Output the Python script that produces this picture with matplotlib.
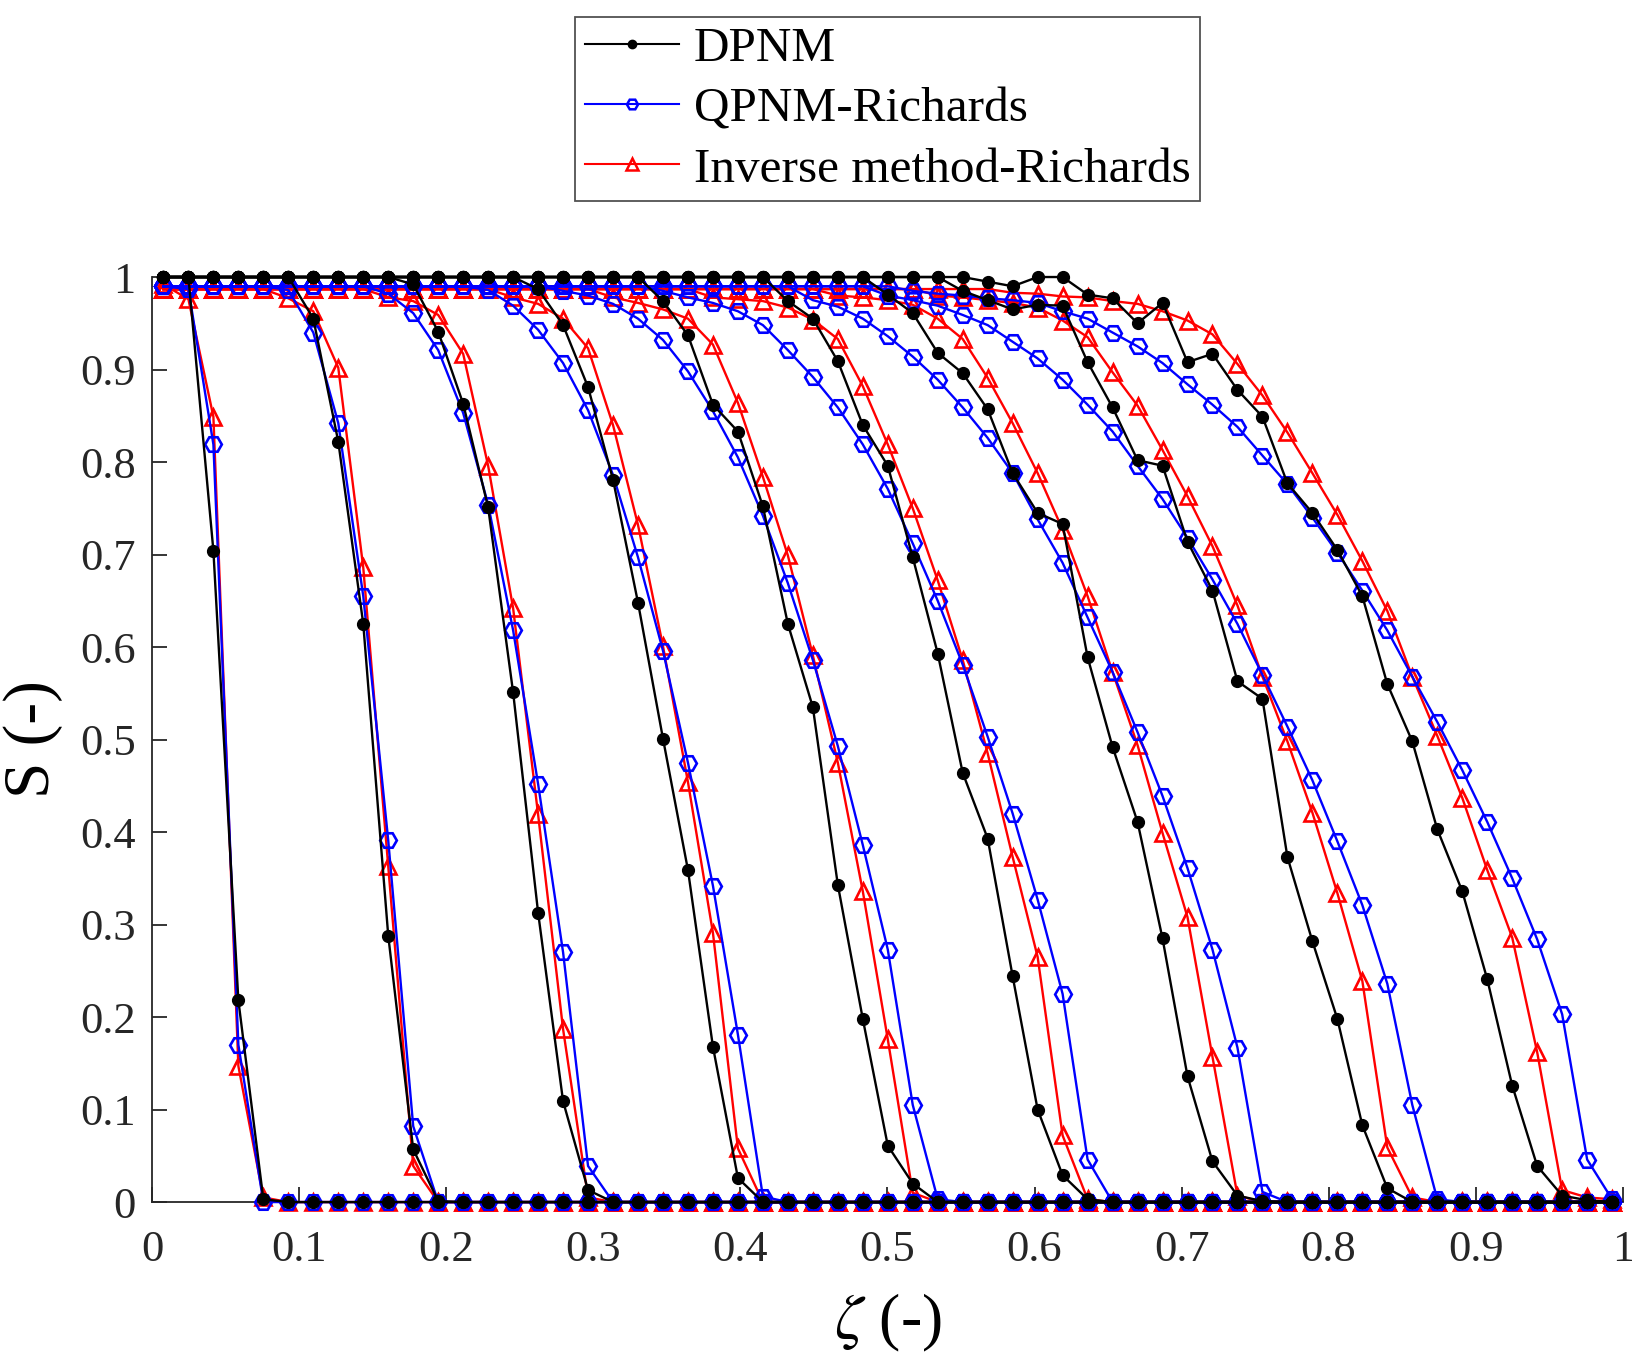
import numpy as np
import matplotlib
matplotlib.use("Agg")
import matplotlib.pyplot as plt
from matplotlib.lines import Line2D

plt.rcParams['font.family'] = ['Liberation Serif', 'DejaVu Serif']
plt.rcParams['mathtext.fontset'] = 'stix'

# pore positions along the column (59 nodes)
zeta = np.linspace(0.0076, 0.9928, 59)
n_nodes = len(zeta)

# saturation fronts: (first node of the front, values over the front)
# before the front S stays at the plateau value, after it S = 0
dpnm_plateau = 1.0
dpnm_fronts = [
    (2, [0.704, 0.218, 0.003]),
    (6, [0.955, 0.822, 0.625, 0.288, 0.057, 0.001]),
    (10, [0.992, 0.941, 0.863, 0.751, 0.551, 0.313, 0.109, 0.013]),
    (15, [0.987, 0.948, 0.881, 0.781, 0.648, 0.501, 0.359, 0.168, 0.026]),
    (20, [0.974, 0.937, 0.862, 0.833, 0.752, 0.625, 0.535, 0.343, 0.198, 0.061, 0.020]),
    (25, [0.974, 0.955, 0.909, 0.840, 0.796, 0.697, 0.593, 0.464, 0.393, 0.244, 0.100, 0.029, 0.003]),
    (29, [0.981, 0.961, 0.918, 0.896, 0.857, 0.788, 0.745, 0.733, 0.589, 0.492, 0.411, 0.285,
          0.136, 0.044, 0.007, 0.001]),
    (32, [0.985, 0.975, 0.965, 0.970, 0.969, 0.908, 0.859, 0.802, 0.796, 0.714, 0.661, 0.563,
          0.544, 0.373, 0.282, 0.198, 0.083, 0.015]),
    (33, [0.995, 0.990, 1.0, 1.0, 0.981, 0.977, 0.950, 0.972, 0.908, 0.917, 0.878, 0.849, 0.777,
          0.745, 0.705, 0.655, 0.560, 0.498, 0.403, 0.336, 0.241, 0.126, 0.039, 0.007, 0.002]),
]

qpnm_plateau = 0.99
qpnm_fronts = [
    (1, [0.987, 0.819, 0.170]),
    (5, [0.986, 0.940, 0.842, 0.655, 0.391, 0.082]),
    (9, [0.982, 0.961, 0.921, 0.853, 0.754, 0.618, 0.452, 0.270, 0.039]),
    (13, [0.986, 0.969, 0.943, 0.907, 0.856, 0.786, 0.697, 0.596, 0.475, 0.342, 0.181, 0.006]),
    (16, [0.985, 0.980, 0.971, 0.955, 0.932, 0.898, 0.855, 0.805, 0.742, 0.669, 0.586, 0.493,
          0.386, 0.273, 0.105, 0.003]),
    (20, [0.985, 0.978, 0.972, 0.963, 0.948, 0.921, 0.892, 0.859, 0.819, 0.771, 0.712, 0.650,
          0.581, 0.503, 0.420, 0.327, 0.225, 0.046]),
    (26, [0.975, 0.968, 0.955, 0.936, 0.914, 0.889, 0.859, 0.826, 0.788, 0.738, 0.691, 0.632,
          0.573, 0.508, 0.439, 0.361, 0.273, 0.167, 0.011]),
    (29, [0.980, 0.975, 0.969, 0.959, 0.948, 0.930, 0.912, 0.889, 0.862, 0.833, 0.796, 0.760,
          0.718, 0.673, 0.625, 0.570, 0.514, 0.456, 0.390, 0.321, 0.236, 0.105, 0.003]),
    (30, [0.985, 0.982, 0.980, 0.977, 0.975, 0.972, 0.963, 0.955, 0.940, 0.925, 0.907, 0.884,
          0.862, 0.838, 0.807, 0.776, 0.740, 0.702, 0.661, 0.618, 0.568, 0.519, 0.467, 0.411,
          0.350, 0.284, 0.203, 0.046, 0.003]),
]

inverse_plateau = 0.987
inverse_fronts = [
    (0, [0.992, 0.976, 0.849, 0.147, 0.005]),
    (5, [0.977, 0.963, 0.902, 0.686, 0.363, 0.039]),
    (9, [0.978, 0.974, 0.959, 0.917, 0.796, 0.642, 0.419, 0.187, 0.005]),
    (14, [0.978, 0.971, 0.955, 0.923, 0.840, 0.732, 0.601, 0.454, 0.291, 0.058]),
    (18, [0.978, 0.972, 0.965, 0.955, 0.927, 0.864, 0.784, 0.699, 0.591, 0.475, 0.336, 0.176, 0.010]),
    (22, [0.978, 0.976, 0.974, 0.967, 0.954, 0.933, 0.882, 0.819, 0.750, 0.672, 0.586, 0.485,
          0.373, 0.265, 0.072, 0.003]),
    (27, [0.980, 0.978, 0.975, 0.970, 0.955, 0.933, 0.891, 0.842, 0.788, 0.727, 0.655, 0.573,
          0.494, 0.399, 0.308, 0.157, 0.007]),
    (31, [0.980, 0.978, 0.975, 0.972, 0.967, 0.953, 0.935, 0.897, 0.861, 0.813, 0.763, 0.709,
          0.645, 0.568, 0.498, 0.421, 0.334, 0.239, 0.059, 0.005]),
    (34, [0.983, 0.982, 0.979, 0.978, 0.974, 0.971, 0.963, 0.953, 0.938, 0.906, 0.872, 0.832,
          0.788, 0.743, 0.693, 0.639, 0.568, 0.504, 0.437, 0.359, 0.286, 0.162, 0.013, 0.005, 0.003]),
]

tick_vals = [0, 0.1, 0.2, 0.3, 0.4, 0.5, 0.6, 0.7, 0.8, 0.9, 1]
tick_labels = ['0', '0.1', '0.2', '0.3', '0.4', '0.5', '0.6', '0.7', '0.8', '0.9', '1']


def build_profile(plateau, start, values):
    tail = n_nodes - start - len(values)
    return np.array([plateau] * start + list(values) + [0.0] * tail)


fig = plt.figure(figsize=(16.32, 13.52), dpi=100)
ax = fig.add_axes([0.0933, 0.1109, 0.9010, 0.6842])

# red below blue below black, as in the original
for start, vals in inverse_fronts:
    ax.plot(zeta, build_profile(inverse_plateau, start, vals), color='#FF0000', lw=1.7,
            marker='^', ms=12, mfc='none', mec='#FF0000', mew=1.9, zorder=2, clip_on=False)
for start, vals in qpnm_fronts:
    ax.plot(zeta, build_profile(qpnm_plateau, start, vals), color='#0000FF', lw=1.7,
            marker='H', ms=12, mfc='none', mec='#0000FF', mew=1.9, zorder=3, clip_on=False)
for start, vals in dpnm_fronts:
    ax.plot(zeta, build_profile(dpnm_plateau, start, vals), color='#000000', lw=1.7,
            marker='o', ms=8.5, mfc='#000000', mec='#000000', zorder=4, clip_on=False)

ax.set_xlim(0, 1)
ax.set_ylim(0, 1)
ax.set_xticks(tick_vals)
ax.set_xticklabels(tick_labels)
ax.set_yticks(tick_vals)
ax.set_yticklabels(tick_labels)
ax.tick_params(direction='in', length=11, width=1.3, labelsize=32, colors='#262626')
ax.tick_params(axis='x', pad=20)
ax.tick_params(axis='y', pad=12)
ax.spines['top'].set_visible(False)
ax.spines['right'].set_visible(False)
for side in ['left', 'bottom']:
    ax.spines[side].set_linewidth(1.3)
    ax.spines[side].set_color('#262626')

ax.set_xlabel(r'$\zeta$ (-)', fontsize=46, labelpad=16)
ax.set_ylabel('S (-)', fontsize=47, labelpad=12)

handles = [
    Line2D([], [], color='#000000', lw=1.5, marker='o', ms=6, mfc='#000000'),
    Line2D([], [], color='#0000FF', lw=1.5, marker='H', ms=8, mfc='none', mew=1.8),
    Line2D([], [], color='#FF0000', lw=1.5, marker='^', ms=8, mfc='none', mew=1.8),
]
labels = ['DPNM', 'QPNM-Richards', 'Inverse method-Richards']
leg = fig.legend(handles, labels, loc='lower center', bbox_to_anchor=(0.544, 0.851),
                 fontsize=35.5, frameon=True, fancybox=False, edgecolor='#262626',
                 handlelength=1.9, handletextpad=0.3, labelspacing=0.32,
                 borderpad=0.2, borderaxespad=0)
leg.get_frame().set_linewidth(1.3)

fig.savefig('out.png', dpi=100, facecolor='white')
